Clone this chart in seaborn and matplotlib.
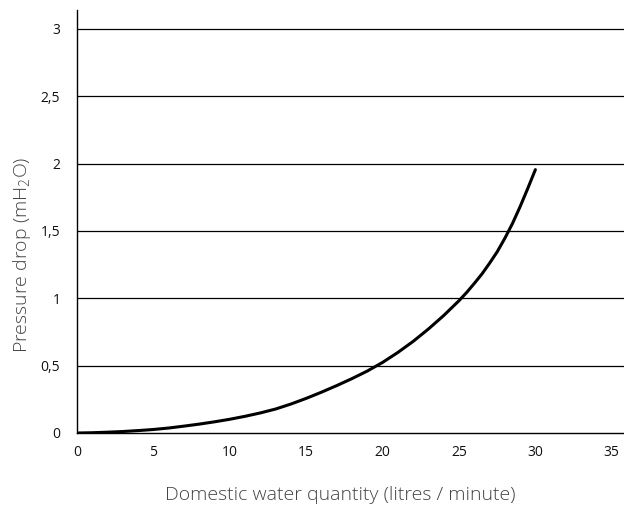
import matplotlib
matplotlib.use("Agg")
import matplotlib.pyplot as plt
import numpy as np
import pandas as pd
import seaborn as sns

# Curve (litres/minute -> mH2O)
flow = [0, 1, 2, 3, 4, 5, 6, 7, 8, 9, 10, 11, 12, 13, 14, 15, 16, 17, 18, 19,
        20, 21, 22, 23, 24, 25, 25.5, 26, 26.5, 27, 27.5, 28, 28.5, 29, 29.5, 30]
pressure = [0, 0.002, 0.006, 0.011, 0.018, 0.026, 0.037, 0.051, 0.066, 0.083,
            0.102, 0.124, 0.149, 0.178, 0.215, 0.257, 0.303, 0.352, 0.404, 0.46,
            0.524, 0.598, 0.68, 0.772, 0.872, 0.982, 1.043, 1.11, 1.18, 1.26,
            1.345, 1.445, 1.555, 1.68, 1.815, 1.955]

x_ticks = [0, 5, 10, 15, 20, 25, 30, 35]
y_ticks = [0, 0.5, 1, 1.5, 2, 2.5, 3]
y_tick_labels = ["0", "0,5", "1", "1,5", "2", "2,5", "3"]

sns.set_style("white")
plt.rcParams["font.family"] = ["Open Sans", "DejaVu Sans"]
plt.rcParams["mathtext.fontset"] = "custom"
plt.rcParams["mathtext.rm"] = "Open Sans:light"

df = pd.DataFrame({"flow": flow, "pressure": pressure})

fig = plt.figure(figsize=(6.24, 5.13), dpi=100)
ax = fig.add_axes([77 / 624, 1 - 433 / 513, 1 - 77 / 624, (433 - 10) / 513])

for yv in y_ticks[1:]:
    ax.axhline(yv, color="black", lw=0.9, zorder=1)

sns.lineplot(data=df, x="flow", y="pressure", color="black", lw=2.2, ax=ax, zorder=3)

ax.set_xlim(0, 35.8)
ax.set_ylim(0, 3.14)
ax.set_xticks(x_ticks)
ax.set_xticklabels([str(v) for v in x_ticks])
ax.set_yticks(y_ticks)
ax.set_yticklabels(y_tick_labels)

for lab in ax.get_xticklabels() + ax.get_yticklabels():
    lab.set_fontsize(10)
    lab.set_color("#111111")

ax.tick_params(axis="x", direction="out", length=6, width=1, color="#777777", pad=3)
ax.tick_params(axis="y", direction="out", length=4, width=0.9, color="black", pad=8)

for s in ["top", "right"]:
    ax.spines[s].set_visible(False)
for s in ["left", "bottom"]:
    ax.spines[s].set_color("black")
    ax.spines[s].set_linewidth(1.0)

ax.set_xlabel("Domestic water quantity (litres / minute)", fontsize=14,
              fontweight="light", color="#444444")
ax.set_ylabel(r"Pressure drop (mH$_2$O)", fontsize=14,
              fontweight="light", color="#444444")
ax.xaxis.set_label_coords((340 - 77) / 547, (433 - 495) / 423)
ax.yaxis.set_label_coords((22 - 77) / 547, (433 - 255) / 423)
ax.xaxis.label.set_va("center")
ax.yaxis.label.set_va("center")

fig.savefig("out.png", dpi=100)
